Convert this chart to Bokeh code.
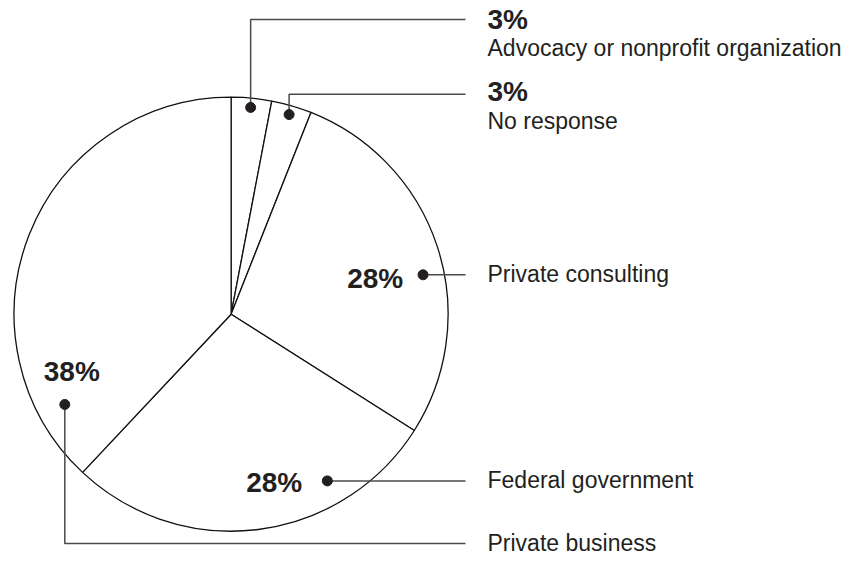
import numpy as np
from bokeh.plotting import figure
from bokeh.models import Range1d, ColumnDataSource
from bokeh.core.properties import value
from bokeh.embed import file_html
from bokeh.resources import INLINE

# ---------------- data ----------------
categories = ["Advocacy or nonprofit organization", "No response",
              "Private consulting", "Federal government", "Private business"]
shares = [3, 3, 28, 28, 38]
pct_labels = [f"{s}%" for s in shares]

# ---------------- layout ----------------
W, H = 841, 555
def X(px):                   # picture x -> data x
    return px
def Y(py):                   # picture y (down) -> data y (up)
    return H - py

BOLD_PX, REG_PX = 28, 23
BOLD_OFF, REG_OFF = 10.5, 8.0   # baseline correction (px)

CX, CY, R = X(230.6), Y(313.7), 217.0
INK = "#231f20"
LINE = "#4a4a4a"
FONT = value("Liberation Sans")

p = figure(width=W, height=H, output_backend="svg", toolbar_location=None,
           x_range=Range1d(0, W), y_range=Range1d(0, H),
           x_axis_type=None, y_axis_type=None, min_border=0,
           background_fill_color="white", border_fill_color="white")
p.outline_line_color = None
p.grid.visible = False

# pie, starting at 12 o'clock, clockwise
frac = np.array(shares, dtype=float) / sum(shares)
cum_end = np.cumsum(frac)
cum_start = cum_end - frac
a_from = np.pi / 2 - 2 * np.pi * cum_start
a_to = np.pi / 2 - 2 * np.pi * cum_end
mid = (a_from + a_to) / 2

src = ColumnDataSource(dict(start=a_to, end=a_from, cat=categories))
p.wedge(x=CX, y=CY, radius=R, start_angle="start", end_angle="end", source=src,
        fill_color="white", line_color="#111111", line_width=1.3)

# callout anchors (polar, relative to pie): first two at slice mid-angle
anchor_ang = [mid[0], mid[1], np.deg2rad(11.6), np.deg2rad(-60.0), np.deg2rad(208.5)]
anchor_r = [0.957, 0.958, 0.903, 0.887, 0.872]
dx = [CX + R * r * np.cos(a) for a, r in zip(anchor_ang, anchor_r)]
dy = [CY + R * r * np.sin(a) for a, r in zip(anchor_ang, anchor_r)]

END_X = X(465)
TXT_X = X(487)
elbow_y = [Y(19), Y(93.7), None, None, Y(543)]

xs, ys = [], []
for i in range(5):
    if elbow_y[i] is None:
        xs.append([dx[i], END_X]); ys.append([dy[i], dy[i]])
    else:
        xs.append([dx[i], dx[i], END_X]); ys.append([dy[i], elbow_y[i], elbow_y[i]])
p.multi_line(xs=xs, ys=ys, line_color=LINE, line_width=1.5)
p.scatter(x=dx, y=dy, size=10, color=INK)

def bold_y(baseline_img):
    return Y(baseline_img) + BOLD_OFF
def reg_y(baseline_data):
    return baseline_data + REG_OFF

# percentage labels at right (small slices)
p.text(x=[TXT_X, TXT_X], y=[bold_y(29.5), bold_y(101.7)], text=pct_labels[:2],
       text_font=FONT, text_font_size=f"{BOLD_PX}px", text_font_style="bold",
       text_color=INK, text_align="left", text_baseline="alphabetic")
# category names
name_y = [reg_y(Y(55)), reg_y(Y(128)), reg_y(dy[2] - 7.5), reg_y(dy[3] - 7.5),
          reg_y(elbow_y[4] - 7.5)]
p.text(x=[TXT_X] * 5, y=name_y, text=categories,
       text_font=FONT, text_font_size=f"{REG_PX}px", text_color=INK,
       text_align="left", text_baseline="alphabetic")
# percentage labels inside the pie
p.text(x=[X(402.7), X(301.7)], y=[bold_y(288.3), bold_y(492.3)], text=pct_labels[2:4],
       text_font=FONT, text_font_size=f"{BOLD_PX}px", text_font_style="bold",
       text_color=INK, text_align="right", text_baseline="alphabetic")
p.text(x=[X(43.3)], y=[bold_y(381.7)], text=pct_labels[4:],
       text_font=FONT, text_font_size=f"{BOLD_PX}px", text_font_style="bold",
       text_color=INK, text_align="left", text_baseline="alphabetic")

open("out.html", "w").write(file_html(p, INLINE))
